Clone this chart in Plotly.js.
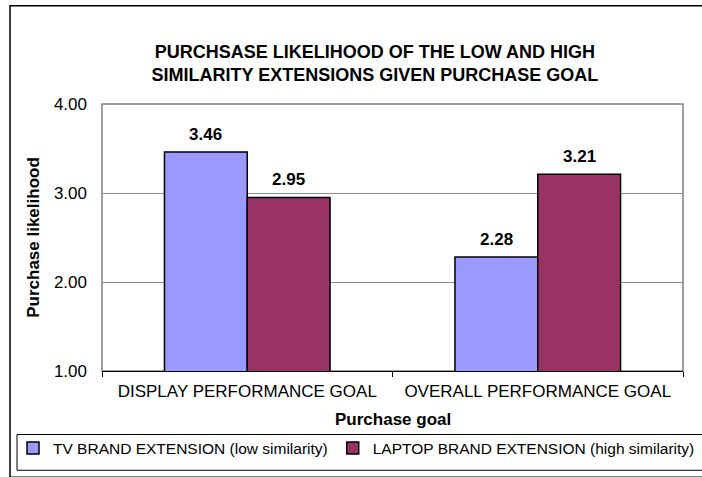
<!DOCTYPE html>
<html>
<head>
<meta charset="utf-8">
<script src="https://cdn.plot.ly/plotly-3.0.1.min.js"></script>
<style>
html,body{margin:0;padding:0;background:#fff;}
#chart{width:702px;height:477px;}
</style>
</head>
<body>
<div id="chart"></div>
<script>
const categories = ["DISPLAY PERFORMANCE GOAL", "OVERALL PERFORMANCE GOAL"];
const seriesNames = ["TV BRAND EXTENSION (low similarity)", "LAPTOP BRAND EXTENSION (high similarity)"];
const tvValues = [3.46, 2.28];
const laptopValues = [2.95, 3.21];
const yTicks = [1, 2, 3, 4];
const xTitle = "Purchase goal";
const yTitle = "Purchase likelihood";

const FONT = "Arial, 'Liberation Sans', sans-serif";
const colors = ["#9999FF", "#993366"];

const traces = [
  {type: "bar", name: seriesNames[0], x: categories, y: tvValues,
   marker: {color: colors[0], line: {color: "#000", width: 1.5}}},
  {type: "bar", name: seriesNames[1], x: categories, y: laptopValues,
   marker: {color: colors[1], line: {color: "#000", width: 1.5}}}
];

const barShift = 41.5;
const annotations = [];
[tvValues, laptopValues].forEach((vals, si) => {
  vals.forEach((v, i) => {
    annotations.push({
      x: categories[i], y: v, xref: "x", yref: "y",
      text: v.toFixed(2), showarrow: false,
      xshift: si === 0 ? -barShift : barShift, yshift: 18,
      font: {family: FONT, size: 17, color: "#000", weight: "bold"}
    });
  });
});
annotations.push({
  text: "<b>" + xTitle + "</b>", xref: "paper", yref: "paper",
  x: 0.5, y: (373 - 422) / 269, xanchor: "center", yanchor: "middle",
  showarrow: false, font: {family: FONT, size: 17, color: "#000"}
});

const layout = {
  width: 702, height: 477,
  margin: {l: 102, r: 19, t: 104, b: 104},
  paper_bgcolor: "#fff", plot_bgcolor: "#fff",
  font: {family: FONT, size: 17, color: "#000"},
  title: {
    text: "<b>PURCHSASE LIKELIHOOD OF THE LOW AND HIGH<br>SIMILARITY EXTENSIONS GIVEN PURCHASE GOAL</b>",
    font: {family: FONT, size: 18, color: "#000"},
    xref: "container", x: 0.534, xanchor: "center",
    yref: "container", y: 1 - 58/477, yanchor: "top"
  },
  barmode: "group", bargap: 0.43, bargroupgap: 0,
  xaxis: {
    type: "category",
    showline: true, linecolor: "#000", linewidth: 1,
    ticks: "outside", tickson: "boundaries", ticklen: 5, tickcolor: "#000",
    tickfont: {family: FONT, size: 17, color: "#000"},
    ticklabelstandoff: 5,
    automargin: false
  },
  yaxis: {
    range: [1, 4], tickvals: yTicks, tickformat: ".2f",
    showgrid: true, gridcolor: "#8c8c8c", gridwidth: 1,
    zeroline: false, showline: false, ticks: "",
    tickfont: {family: FONT, size: 17, color: "#000"},
    ticklabelstandoff: 14,
    title: {text: "<b>" + yTitle + "</b>", font: {family: FONT, size: 17, color: "#000"}, standoff: 9},
    automargin: false
  },
  showlegend: true,
  legend: {
    orientation: "h",
    xref: "paper", x: (13 - 102) / 581, xanchor: "left",
    yref: "paper", y: (373 - 451) / 269, yanchor: "middle",
    font: {family: FONT, size: 15.5, color: "#000"},
    bgcolor: "rgba(0,0,0,0)", borderwidth: 0,
    traceorder: "normal"
  },
  annotations: annotations,
  shapes: [
    {type: "rect", xref: "paper", yref: "paper", x0: 0, x1: 1, y0: 0, y1: 1,
     line: {color: "#808080", width: 1.5}, layer: "below"},
    {type: "rect", xref: "paper", yref: "paper",
     x0: (10 - 102) / 581, x1: (712 - 102) / 581, y0: (373 - 480) / 269, y1: (373 - 5) / 269,
     line: {color: "#000", width: 1.5}},
    {type: "rect", xref: "paper", yref: "paper",
     x0: (17 - 102) / 581, x1: (712 - 102) / 581, y0: (373 - 473) / 269, y1: (373 - 437) / 269,
     line: {color: "#000", width: 1}}
  ]
};

Plotly.newPlot("chart", traces, layout, {displayModeBar: false, staticPlot: true});
</script>
</body>
</html>
